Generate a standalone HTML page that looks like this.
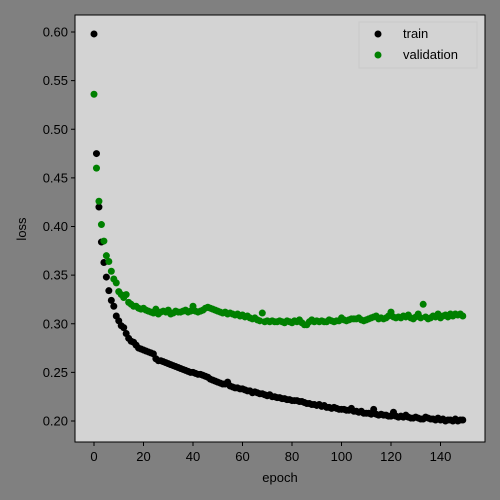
<!DOCTYPE html>
<html><head><meta charset="utf-8"><style>
body{margin:0;background:#808080;}
svg{display:block;font-family:"Liberation Sans","DejaVu Sans",sans-serif;}
</style></head><body>
<svg id="chart" width="500" height="500" xmlns="http://www.w3.org/2000/svg">
<rect width="500" height="500" fill="#808080"/>
<rect x="75" y="15" width="410" height="427" fill="#d3d3d3" stroke="#000" stroke-width="1"/>
<g id="axes"></g>
<g id="marks"></g>
<text x="280" y="482" text-anchor="middle" font-size="13">epoch</text>
<text x="26" y="229" text-anchor="middle" font-size="13" transform="rotate(-90 26 229)">loss</text>
<g>
<rect x="359" y="22" width="118" height="46" fill="#d3d3d3" stroke="#c8c8c8" opacity="0.9"/>
<circle cx="378" cy="34" r="3.5" fill="#000"/>
<text x="403" y="38" font-size="13">train</text>
<circle cx="378" cy="55" r="3.5" fill="#008000"/>
<text x="403" y="59" font-size="13">validation</text>
</g>
</svg>
<script>
const xTicks=[0,20,40,60,80,100,120,140];
const yTicks=[0.20,0.25,0.30,0.35,0.40,0.45,0.50,0.55,0.60];
const train=[0.598,0.475,0.420,0.384,0.363,0.348,0.334,0.324,0.318,0.308,0.303,0.298,0.296,0.290,0.285,0.282,0.281,0.278,0.275,0.274,
0.273,0.272,0.271,0.270,0.269,0.264,0.262,0.262,0.261,0.260,0.259,0.258,0.257,0.256,0.255,0.254,0.253,0.252,0.251,0.250,
0.250,0.249,0.248,0.248,0.247,0.246,0.245,0.243,0.242,0.241,0.240,0.239,0.238,0.238,0.240,0.236,0.235,0.234,0.234,0.233,
0.233,0.232,0.231,0.231,0.229,0.230,0.229,0.228,0.228,0.227,0.226,0.227,0.225,0.225,0.224,0.224,0.223,0.223,0.222,0.222,
0.221,0.221,0.221,0.220,0.220,0.219,0.218,0.218,0.217,0.217,0.216,0.217,0.215,0.216,0.214,0.214,0.213,0.214,0.213,0.212,
0.212,0.212,0.211,0.211,0.213,0.210,0.210,0.209,0.210,0.208,0.208,0.208,0.207,0.212,0.207,0.206,0.207,0.206,0.206,0.205,
0.205,0.209,0.205,0.204,0.205,0.204,0.206,0.204,0.203,0.203,0.204,0.203,0.202,0.202,0.204,0.203,0.202,0.202,0.201,0.203,
0.201,0.202,0.200,0.201,0.201,0.200,0.202,0.200,0.201,0.201];
const validation=[0.536,0.460,0.426,0.402,0.385,0.370,0.364,0.354,0.346,0.342,0.333,0.330,0.327,0.330,0.322,0.320,0.318,0.318,0.316,0.315,
0.316,0.314,0.313,0.312,0.311,0.315,0.310,0.312,0.313,0.312,0.314,0.310,0.311,0.313,0.312,0.312,0.313,0.314,0.312,0.313,
0.318,0.313,0.312,0.313,0.314,0.316,0.317,0.316,0.315,0.314,0.313,0.312,0.311,0.312,0.310,0.311,0.310,0.309,0.310,0.308,
0.309,0.307,0.308,0.306,0.305,0.306,0.304,0.303,0.311,0.302,0.303,0.302,0.303,0.302,0.302,0.303,0.302,0.301,0.303,0.302,
0.301,0.303,0.302,0.304,0.301,0.299,0.299,0.302,0.304,0.302,0.303,0.302,0.303,0.302,0.302,0.304,0.303,0.302,0.303,0.303,
0.306,0.304,0.303,0.304,0.305,0.305,0.305,0.306,0.304,0.303,0.304,0.305,0.306,0.307,0.308,0.305,0.306,0.305,0.306,0.308,
0.312,0.307,0.306,0.307,0.306,0.308,0.307,0.309,0.306,0.305,0.307,0.310,0.306,0.320,0.307,0.305,0.306,0.308,0.307,0.310,
0.306,0.308,0.309,0.307,0.310,0.308,0.310,0.309,0.310,0.308];
const NS="http://www.w3.org/2000/svg";
function xs(v){return 94+v*2.475;}
function ys(v){return 421-(v-0.20)*972.5;}
const axes=document.getElementById('axes'),marks=document.getElementById('marks');
function mk(tag,attrs,parent){const e=document.createElementNS(NS,tag);for(const k in attrs)e.setAttribute(k,attrs[k]);parent.appendChild(e);return e;}
xTicks.forEach(t=>{
  const l=mk('line',{x1:xs(t),x2:xs(t),y1:442,y2:446,stroke:'#000'},axes);
  
  
  const tx=mk('text',{x:xs(t),y:461,'text-anchor':'middle','font-size':'13'},axes);tx.textContent=t;
  
  
});
yTicks.forEach(t=>{
  const l=mk('line',{x1:71,x2:75,y1:ys(t),y2:ys(t),stroke:'#000'},axes);
  
  
  const tx=mk('text',{x:68,y:ys(t)+4.5,'text-anchor':'end','font-size':'13'},axes);tx.textContent=t.toFixed(2);
  
  
});
train.forEach((v,i)=>{
  const c=mk('circle',{cx:xs(i),cy:ys(v),r:3.5,fill:'#000'},marks);
  
  
});
validation.forEach((v,i)=>{
  const c=mk('circle',{cx:xs(i),cy:ys(v),r:3.5,fill:'#008000'},marks);
  
  
});
</script>
</body></html>
